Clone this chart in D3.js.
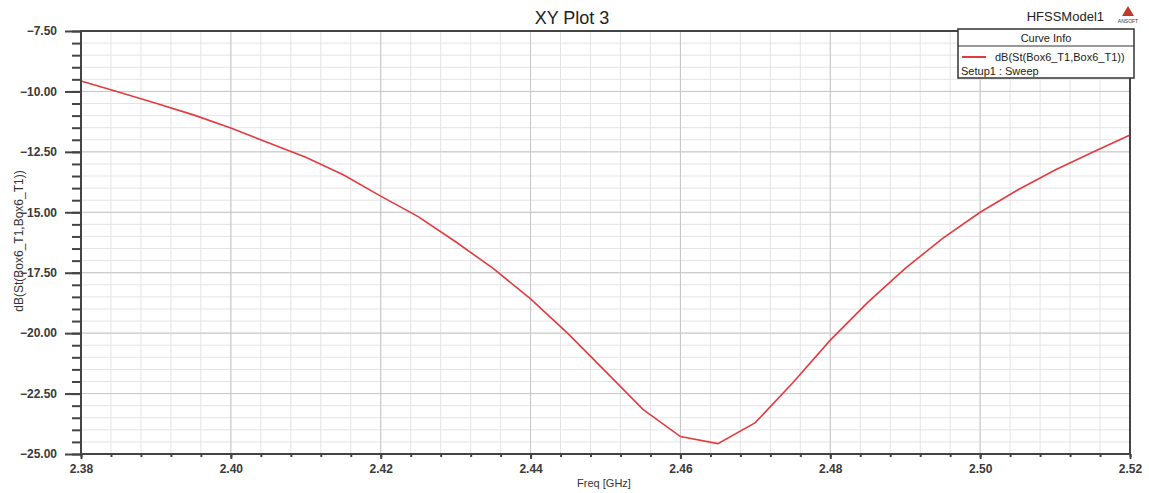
<!DOCTYPE html>
<html>
<head>
<meta charset="utf-8">
<script src="https://cdn.jsdelivr.net/npm/d3@7"></script>
<style>
  body { margin: 0; background: #fff; }
  svg { display: block; font-family: "Liberation Sans", Arial, sans-serif; }
</style>
</head>
<body>
<svg id="chart" width="1149" height="493"></svg>
<script>
const freqs = [2.380, 2.385, 2.390, 2.395, 2.400, 2.405, 2.410, 2.415, 2.420, 2.425,
               2.430, 2.435, 2.440, 2.445, 2.450, 2.455, 2.460, 2.465, 2.470, 2.475,
               2.480, 2.485, 2.490, 2.495, 2.500, 2.505, 2.510, 2.515, 2.520];
const dbValues = [-9.57, -10.02, -10.49, -10.97, -11.51, -12.12, -12.72, -13.45, -14.33, -15.18,
                  -16.22, -17.32, -18.58, -20.02, -21.58, -23.15, -24.28, -24.57, -23.70, -22.05,
                  -20.29, -18.73, -17.32, -16.08, -15.00, -14.08, -13.25, -12.52, -11.80];
const xTicks = [2.38, 2.40, 2.42, 2.44, 2.46, 2.48, 2.50, 2.52];
const yTicks = [-7.5, -10, -12.5, -15, -17.5, -20, -22.5, -25];
const xMinorStep = 0.004;
const yMinorStep = 0.5;

const svg = d3.select("#chart");
const L = 81, R = 1130, T = 31, B = 454;
const x = d3.scaleLinear().domain([2.38, 2.52]).range([L, R]);
const y = d3.scaleLinear().domain([-25, -7.5]).range([B, T]);

const xMinor = d3.range(0, 36).map(i => 2.38 + i * xMinorStep);
const yMinor = d3.range(0, 36).map(i => -25 + i * yMinorStep);

// minor grid
const g = svg.append("g");
g.selectAll(".vxm").data(xMinor).join("line")
  .attr("x1", d => x(d)).attr("x2", d => x(d)).attr("y1", T).attr("y2", B)
  .attr("stroke", "#e4e4e4").attr("stroke-width", 1);
g.selectAll(".hym").data(yMinor).join("line")
  .attr("y1", d => y(d)).attr("y2", d => y(d)).attr("x1", L).attr("x2", R)
  .attr("stroke", "#e4e4e4").attr("stroke-width", 1);
// major grid
g.selectAll(".vx").data(xTicks).join("line")
  .attr("x1", d => x(d)).attr("x2", d => x(d)).attr("y1", T).attr("y2", B)
  .attr("stroke", "#c6c6c6").attr("stroke-width", 1);
g.selectAll(".hy").data(yTicks).join("line")
  .attr("y1", d => y(d)).attr("y2", d => y(d)).attr("x1", L).attr("x2", R)
  .attr("stroke", "#c6c6c6").attr("stroke-width", 1);

// curve
svg.append("path")
  .datum(freqs.map((f, i) => [f, dbValues[i]]))
  .attr("fill", "none").attr("stroke", "#e23b40").attr("stroke-width", 1.6)
  .attr("d", d3.line().x(d => x(d[0])).y(d => y(d[1])));

// axes with D3
const axisColor = "#444";
const yAxisMinor = d3.axisLeft(y).tickValues(yMinor).tickSize(9).tickFormat("");
const yAxis = d3.axisLeft(y).tickValues(yTicks).tickSize(16).tickPadding(8)
  .tickFormat(d3.format(".2f"));
const xAxisMinor = d3.axisBottom(x).tickValues(xMinor).tickSize(3).tickFormat("");
const xAxis = d3.axisBottom(x).tickValues(xTicks).tickSize(5).tickPadding(5)
  .tickFormat(d3.format(".2f"));

function styleAxis(sel) {
  sel.select(".domain").remove();
  sel.selectAll("line").attr("stroke", axisColor).attr("stroke-width", 2);
  sel.selectAll("text").attr("fill", "#3a3a3a").attr("font-size", 12)
     .attr("font-weight", "bold").attr("font-family", "Liberation Sans, Arial, sans-serif");
}
svg.append("g").attr("transform", `translate(${L},0)`).call(yAxisMinor).call(styleAxis);
svg.append("g").attr("transform", `translate(${L},0)`).call(yAxis).call(styleAxis);
svg.append("g").attr("transform", `translate(0,${B})`).call(xAxisMinor).call(styleAxis);
svg.append("g").attr("transform", `translate(0,${B})`).call(xAxis).call(styleAxis);

// frame
svg.append("rect").attr("x", L).attr("y", T).attr("width", R - L).attr("height", B - T)
  .attr("fill", "none").attr("stroke", axisColor).attr("stroke-width", 2);

// titles
svg.append("text").attr("x", 572).attr("y", 24).attr("text-anchor", "middle")
  .attr("font-size", 18).attr("fill", "#222").text("XY Plot 3");
svg.append("text").attr("x", 604).attr("y", 487).attr("text-anchor", "middle")
  .attr("font-size", 11).attr("fill", "#333").text("Freq [GHz]");
svg.append("text").attr("transform", `translate(23,241) rotate(-90)`)
  .attr("text-anchor", "middle").attr("font-size", 12).attr("fill", "#333")
  .text("dB(St(Box6_T1,Box6_T1))");

// model label and logo
svg.append("text").attr("x", 1104).attr("y", 21).attr("text-anchor", "end")
  .attr("font-size", 13).attr("fill", "#222").text("HFSSModel1");
svg.append("path").attr("d", "M1128,6 L1122,16 L1134,16 Z").attr("fill", "#c0392b");
svg.append("text").attr("x", 1128).attr("y", 23).attr("text-anchor", "middle")
  .attr("font-size", 5).attr("fill", "#333").text("ANSOFT");

// legend
const lg = svg.append("g");
lg.append("rect").attr("x", 958).attr("y", 29).attr("width", 176).attr("height", 49)
  .attr("fill", "#fff").attr("stroke", "#333").attr("stroke-width", 1.5);
lg.append("line").attr("x1", 958).attr("x2", 1134).attr("y1", 46).attr("y2", 46)
  .attr("stroke", "#333").attr("stroke-width", 1);
lg.append("text").attr("x", 1046).attr("y", 42).attr("text-anchor", "middle")
  .attr("font-size", 11).attr("fill", "#222").text("Curve Info");
lg.append("line").attr("x1", 962).attr("x2", 986).attr("y1", 57).attr("y2", 57)
  .attr("stroke", "#e23b40").attr("stroke-width", 2);
lg.append("text").attr("x", 995).attr("y", 61).attr("font-size", 11).attr("fill", "#222")
  .text("dB(St(Box6_T1,Box6_T1))");
lg.append("text").attr("x", 961).attr("y", 75).attr("font-size", 11).attr("fill", "#222")
  .text("Setup1 : Sweep");
</script>
</body>
</html>
